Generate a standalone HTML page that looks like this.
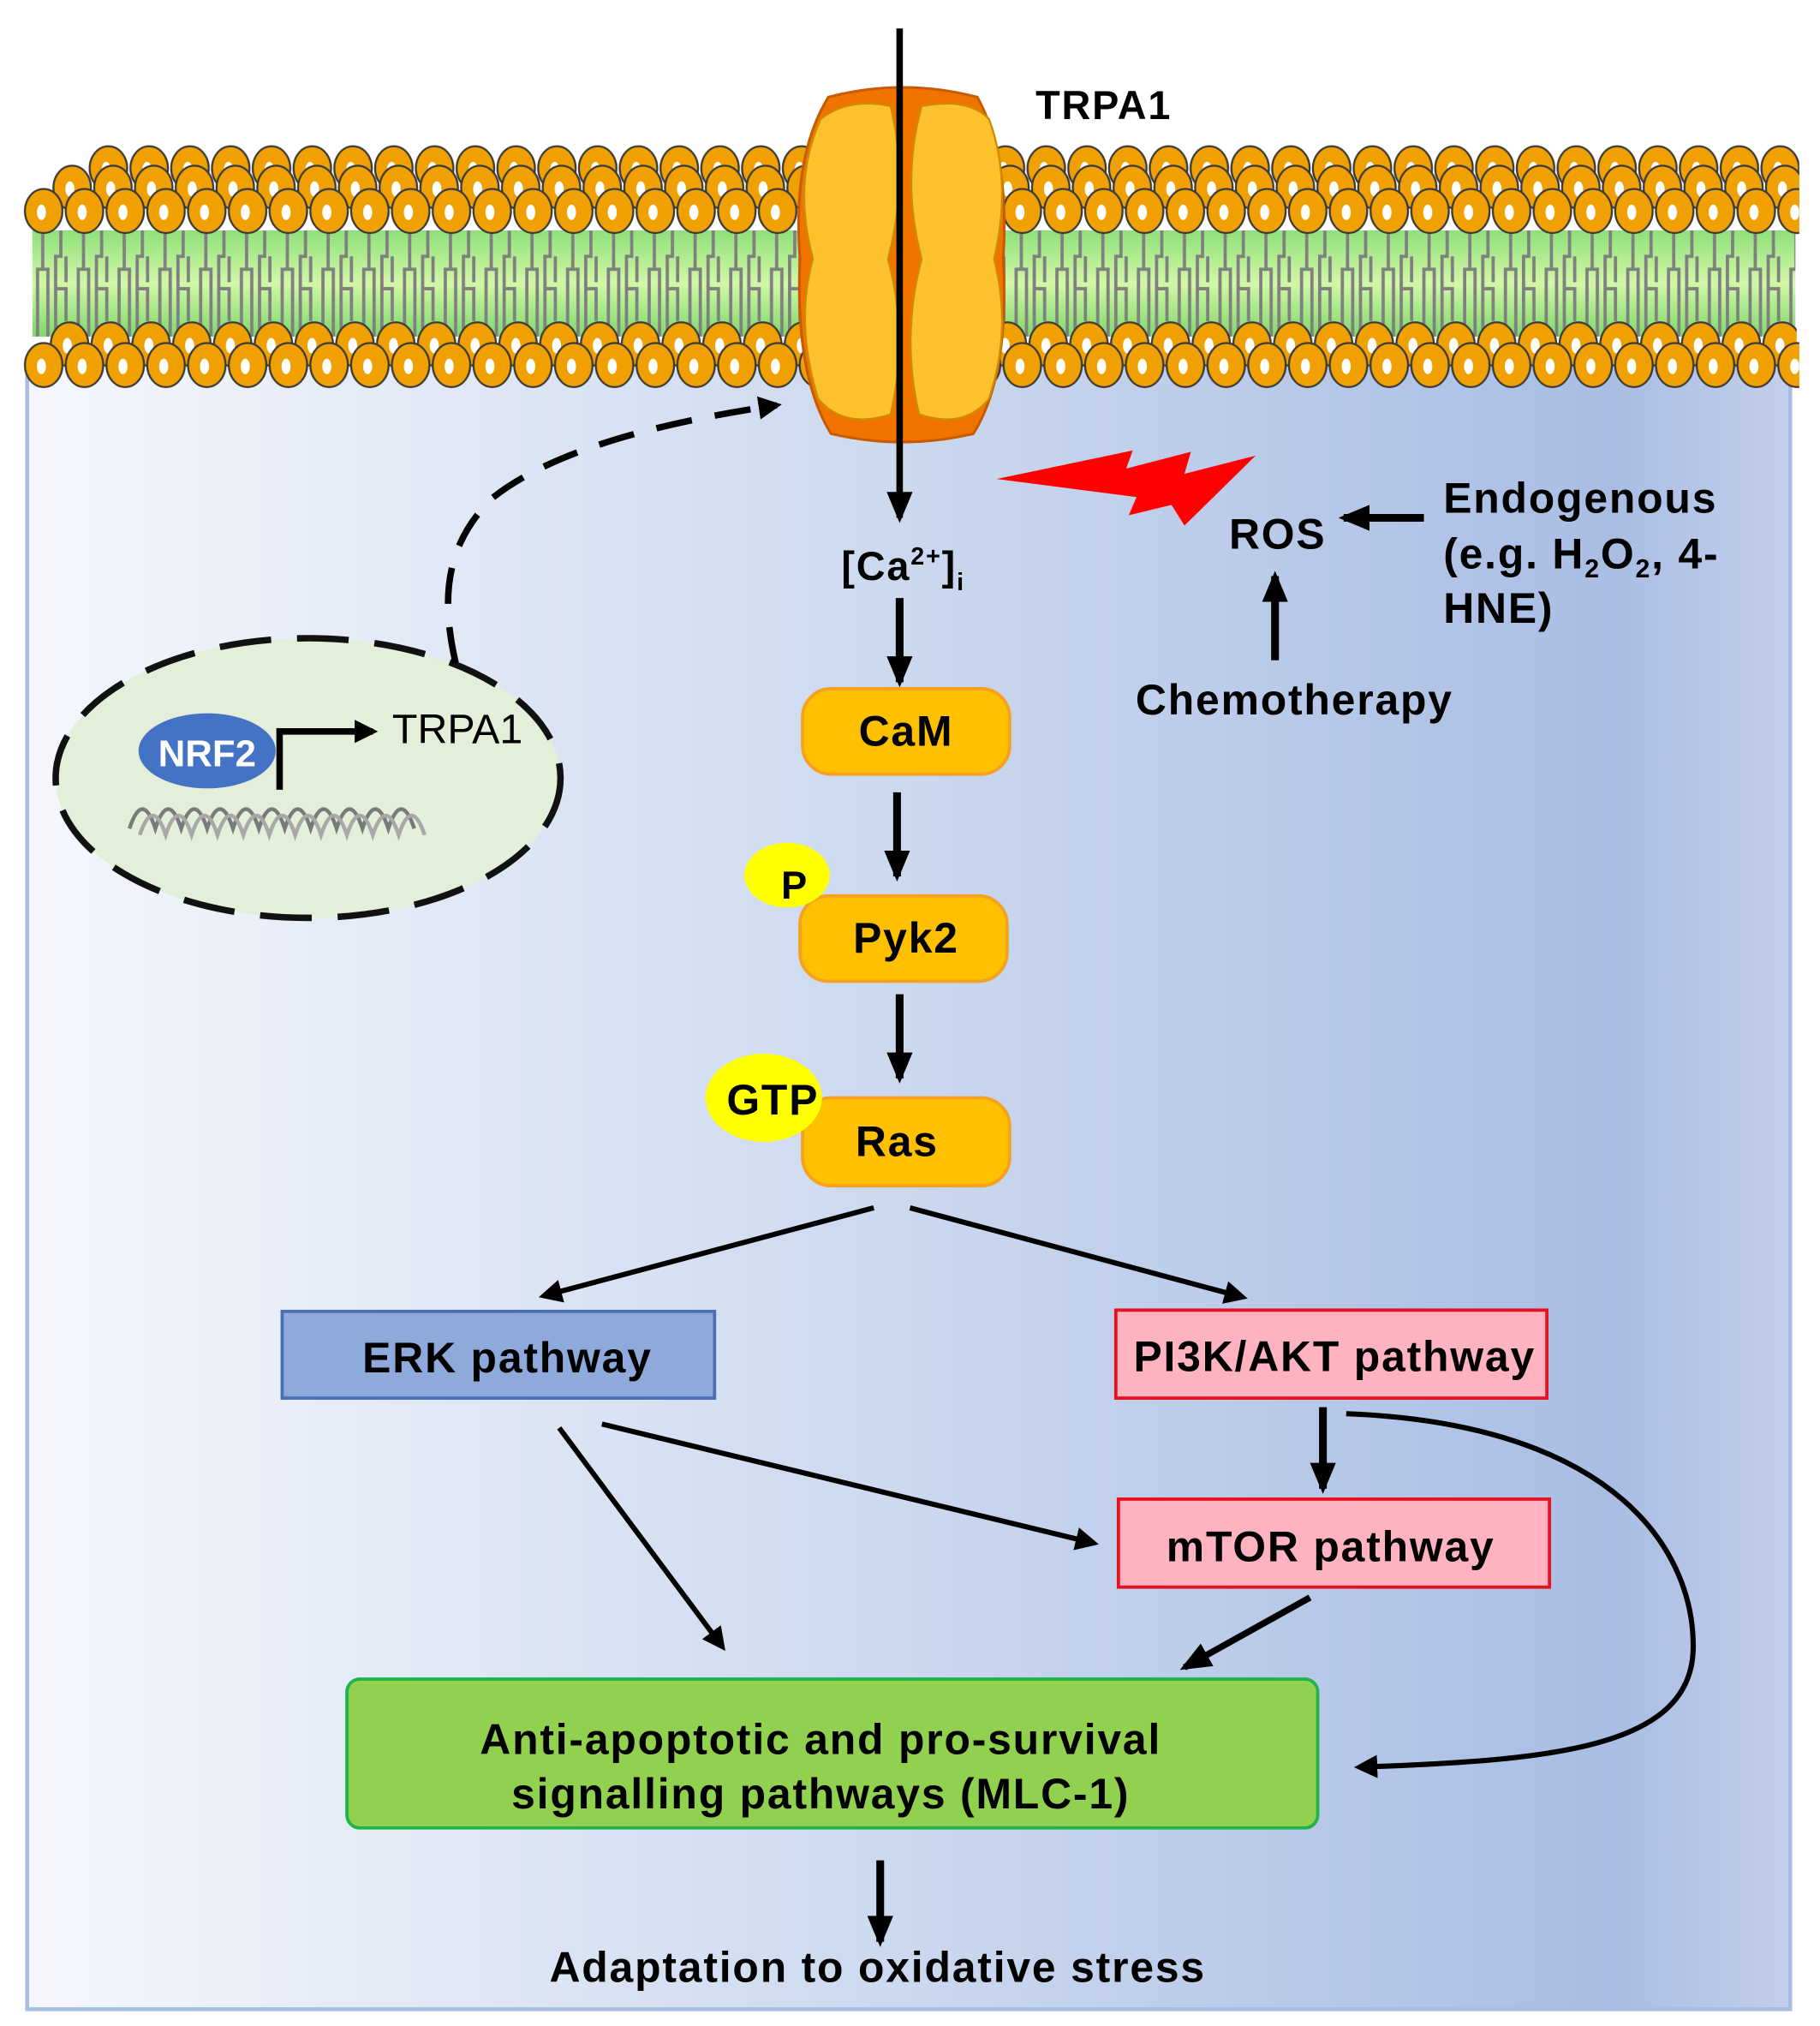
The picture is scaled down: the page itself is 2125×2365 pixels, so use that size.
<!DOCTYPE html>
<html><head><meta charset="utf-8"><style>html,body{margin:0;padding:0;background:#fff}svg{display:block}text{font-family:"Liberation Sans",Arial,sans-serif;font-weight:bold;letter-spacing:1.2px}</style></head>
<body>
<svg width="2125" height="2365" viewBox="0 0 1406 1565" preserveAspectRatio="none" xmlns="http://www.w3.org/2000/svg">
<defs>
<linearGradient id="bg" x1="0" x2="1" y1="0" y2="0">
<stop offset="0" stop-color="#f5f7fc"/><stop offset="0.5" stop-color="#cbd8ee"/><stop offset="0.9" stop-color="#a9bde4"/><stop offset="1" stop-color="#c3cfea"/></linearGradient>
<linearGradient id="tail" x1="0" x2="0" y1="0" y2="1"><stop offset="0" stop-color="#8fe07a"/><stop offset="0.5" stop-color="#d2f7a6"/><stop offset="1" stop-color="#7fd86a"/></linearGradient>
<g id="hd"><ellipse cx="15.75" cy="20" rx="14.5" ry="17" fill="#f0a000" stroke="#3a3a3a" stroke-width="1.5"/><ellipse cx="14" cy="21" rx="3.5" ry="6" fill="#fff"/></g>
<pattern id="h1" x="68" y="110" width="31.5" height="40" patternUnits="userSpaceOnUse"><use href="#hd"/></pattern>
<pattern id="h2" x="40" y="125" width="31.5" height="40" patternUnits="userSpaceOnUse"><use href="#hd"/></pattern>
<pattern id="h3" x="18" y="143" width="31.5" height="40" patternUnits="userSpaceOnUse"><use href="#hd"/></pattern>
<pattern id="h4" x="38" y="246" width="31.5" height="40" patternUnits="userSpaceOnUse"><use href="#hd"/></pattern>
<pattern id="h5" x="18" y="262" width="31.5" height="40" patternUnits="userSpaceOnUse"><use href="#hd"/></pattern>
<pattern id="tails" x="25" y="178" width="31.5" height="82" patternUnits="userSpaceOnUse">
<path d="M8 0 V30 H4 V55 M8 30 H12 V50 M22 0 V20 H18 V45 H26 V70 M26 20 V40 M12 50 V82 M4 55 V82 M18 45 V82" fill="none" stroke="#808080" stroke-width="2.5"/></pattern>
<marker id="ahb" markerWidth="18" markerHeight="18" refX="14" refY="9" orient="auto" markerUnits="userSpaceOnUse"><path d="M0 0 L18 9 L0 18 Z" fill="#000"/></marker>
<marker id="ahm" markerWidth="24" markerHeight="24" refX="20" refY="12" orient="auto" markerUnits="userSpaceOnUse"><path d="M0 2 L24 12 L0 22 Z" fill="#000"/></marker>
</defs>
<rect x="0" y="0" width="1406" height="1565" fill="#fff"/>
<rect x="21" y="280" width="1362" height="1272" fill="url(#bg)" stroke="#a9bde3" stroke-width="3"/>
<!-- membrane -->
<rect x="25" y="178" width="1362" height="82" fill="url(#tail)"/>
<rect x="25" y="178" width="1362" height="82" fill="url(#tails)"/>
<rect x="68" y="110" width="1322" height="40" fill="url(#h1)"/>
<rect x="40" y="125" width="1350" height="40" fill="url(#h2)"/>
<rect x="18" y="143" width="1372" height="40" fill="url(#h3)"/>
<rect x="38" y="246" width="1350" height="40" fill="url(#h4)"/>
<rect x="18" y="262" width="1372" height="40" fill="url(#h5)"/>
<!-- channel -->
<path d="M640 75 Q697 60 755 75 Q780 120 775 200 Q780 290 752 335 Q697 348 642 335 Q614 290 618 200 Q612 120 640 75 Z" fill="#f07300" stroke="#c85a00" stroke-width="2"/>
<path d="M634 92 Q655 75 688 82 Q702 140 686 200 Q702 260 688 320 Q652 332 632 308 Q614 250 628 200 Q612 140 634 92 Z" fill="#fcc12d" stroke="#d08a00" stroke-width="1.5"/>
<path d="M712 82 Q748 75 764 92 Q782 140 768 200 Q782 255 764 308 Q745 332 710 320 Q696 260 712 200 Q696 140 712 82 Z" fill="#fcc12d" stroke="#d08a00" stroke-width="1.5"/>
<text x="800" y="92" font-size="31">TRPA1</text>
<!-- main arrow -->
<line x1="695" y1="22" x2="695" y2="400" stroke="#000" stroke-width="5" marker-end="url(#ahm)"/>
<text x="650" y="448" font-size="31">[Ca<tspan font-size="19" dy="-12">2+</tspan><tspan dy="12">]</tspan><tspan font-size="19" dy="8">i</tspan></text>
<line x1="695" y1="462" x2="695" y2="527" stroke="#000" stroke-width="6" marker-end="url(#ahm)"/>
<rect x="620" y="532" width="160" height="66" rx="22" fill="#ffc000" stroke="#f5a020" stroke-width="2.5"/>
<text x="700" y="576" font-size="33" text-anchor="middle">CaM</text>
<line x1="693" y1="612" x2="693" y2="677" stroke="#000" stroke-width="6" marker-end="url(#ahm)"/>
<rect x="618" y="692" width="160" height="66" rx="22" fill="#ffc000" stroke="#f5a020" stroke-width="2.5"/>
<ellipse cx="608" cy="676" rx="33" ry="25" fill="#ffff00"/>
<text x="614" y="694" font-size="30" text-anchor="middle">P</text>
<text x="700" y="736" font-size="33" text-anchor="middle">Pyk2</text>
<line x1="695" y1="768" x2="695" y2="833" stroke="#000" stroke-width="6" marker-end="url(#ahm)"/>
<rect x="620" y="848" width="160" height="68" rx="22" fill="#ffc000" stroke="#f5a020" stroke-width="2.5"/>
<ellipse cx="590" cy="848" rx="45" ry="34" fill="#ffff00"/>
<text x="597" y="861" font-size="33" text-anchor="middle">GTP</text>
<text x="693" y="893" font-size="33" text-anchor="middle">Ras</text>
<line x1="675" y1="933" x2="420" y2="1001" stroke="#000" stroke-width="4" marker-end="url(#ahb)"/>
<line x1="703" y1="933" x2="960" y2="1002" stroke="#000" stroke-width="4" marker-end="url(#ahb)"/>
<rect x="218" y="1013" width="334" height="67" fill="#8eaadb" stroke="#4a6fb5" stroke-width="2.5"/>
<text x="392" y="1060" font-size="33" text-anchor="middle">ERK pathway</text>
<rect x="862" y="1012" width="333" height="68" fill="#ffb3c1" stroke="#e8101e" stroke-width="2.5"/>
<text x="1031" y="1059" font-size="33" text-anchor="middle">PI3K/AKT pathway</text>
<line x1="1022" y1="1087" x2="1022" y2="1150" stroke="#000" stroke-width="6" marker-end="url(#ahm)"/>
<rect x="864" y="1158" width="333" height="68" fill="#ffb3c1" stroke="#e8101e" stroke-width="2.5"/>
<text x="1028" y="1206" font-size="33" text-anchor="middle">mTOR pathway</text>
<line x1="465" y1="1100" x2="845" y2="1192" stroke="#000" stroke-width="4" marker-end="url(#ahb)"/>
<line x1="432" y1="1103" x2="558" y2="1272" stroke="#000" stroke-width="4" marker-end="url(#ahb)"/>
<line x1="1012" y1="1234" x2="915" y2="1288" stroke="#000" stroke-width="5" marker-end="url(#ahm)"/>
<path d="M1040 1092 C1250 1100 1310 1200 1308 1275 C1305 1350 1200 1360 1050 1365" fill="none" stroke="#000" stroke-width="4" marker-end="url(#ahb)"/>
<rect x="268" y="1297" width="750" height="115" rx="10" fill="#92d050" stroke="#1fb34a" stroke-width="2.5"/>
<text x="634" y="1355" font-size="33" text-anchor="middle">Anti-apoptotic and pro-survival</text>
<text x="634" y="1397" font-size="33" text-anchor="middle">signalling pathways (MLC-1)</text>
<line x1="680" y1="1437" x2="680" y2="1500" stroke="#000" stroke-width="6" marker-end="url(#ahm)"/>
<text x="678" y="1531" font-size="33" text-anchor="middle">Adaptation to oxidative stress</text>
<!-- ROS -->
<polygon points="770,370 875,348 870,362 920,349 915,366 970,352 915,406 905,390 872,398 878,384" fill="#ff0000"/>
<text x="987" y="424" font-size="33" text-anchor="middle">ROS</text>
<line x1="1100" y1="400" x2="1038" y2="400" stroke="#000" stroke-width="6" marker-end="url(#ahm)"/>
<text x="1115" y="396" font-size="33">Endogenous</text>
<text x="1115" y="439" font-size="33">(e.g. H<tspan font-size="20" dy="7">2</tspan><tspan dy="-7">O</tspan><tspan font-size="20" dy="7">2</tspan><tspan dy="-7">, 4-</tspan></text>
<text x="1115" y="481" font-size="33">HNE)</text>
<line x1="985" y1="510" x2="985" y2="445" stroke="#000" stroke-width="6" marker-end="url(#ahm)"/>
<text x="1000" y="552" font-size="33" text-anchor="middle">Chemotherapy</text>
<!-- nucleus -->
<ellipse cx="238" cy="601" rx="195" ry="108" fill="#e3efd9" stroke="#111" stroke-width="5" stroke-dasharray="40 20"/>
<path d="M352 512 C340 460 345 420 380 385 C430 345 520 325 600 313" fill="none" stroke="#000" stroke-width="5" stroke-dasharray="28 18" marker-end="url(#ahb)"/>
<g stroke="#7a7a7a" stroke-width="3" fill="none">
<path d="M100 640 q10 -30 20 0 q10 -30 20 0 q10 -30 20 0 q10 -30 20 0 q10 -30 20 0 q10 -30 20 0 q10 -30 20 0 q10 -30 20 0 q10 -30 20 0 q10 -30 20 0 q10 -30 20 0"/>
<path d="M108 645 q10 -30 20 0 q10 -30 20 0 q10 -30 20 0 q10 -30 20 0 q10 -30 20 0 q10 -30 20 0 q10 -30 20 0 q10 -30 20 0 q10 -30 20 0 q10 -30 20 0 q10 -30 20 0" stroke="#a8a8a8"/>
</g>
<ellipse cx="160" cy="580" rx="53" ry="29" fill="#4472c4"/>
<text x="160" y="592" font-size="29" fill="#fff" text-anchor="middle" style="letter-spacing:0">NRF2</text>
<path d="M216 610 V565 H288" fill="none" stroke="#000" stroke-width="5" marker-end="url(#ahb)"/>
<text x="303" y="574" font-size="32" style="font-weight:normal;letter-spacing:0">TRPA1</text>
</svg>
</body></html>
